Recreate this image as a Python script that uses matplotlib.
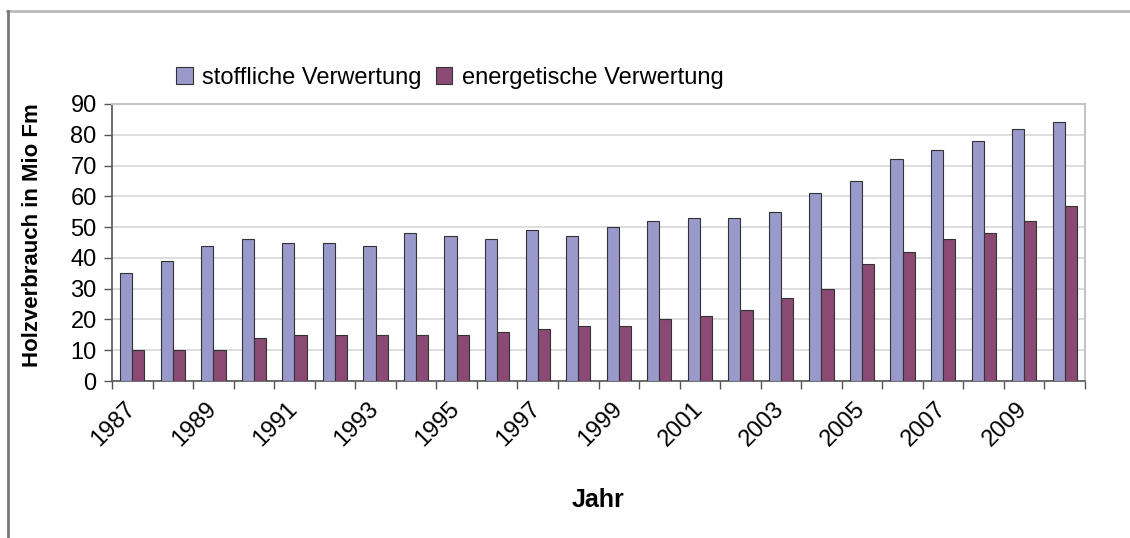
import numpy as np
import matplotlib
matplotlib.use("Agg")
import matplotlib.pyplot as plt
from matplotlib.lines import Line2D

plt.rcParams["font.family"] = ["Liberation Sans", "DejaVu Sans"]

YEARS = list(range(1987, 2011))
STOFFLICH = [35, 39, 44, 46, 45, 45, 44, 48, 47, 46, 49, 47,
             50, 52, 53, 53, 55, 61, 65, 72, 75, 78, 82, 84]
ENERGETISCH = [10, 10, 10, 14, 15, 15, 15, 15, 15, 16, 17, 18,
               18, 20, 21, 23, 27, 30, 38, 42, 46, 48, 52, 57]
SERIES = ["stoffliche Verwertung", "energetische Verwertung"]
COLOURS = ["#9999cc", "#8a4a74"]

fig = plt.figure(figsize=(11.3, 5.38), dpi=100)
ax = fig.add_axes([0.0991, 0.2918, 0.8611, 0.5149])

x = np.arange(len(YEARS))
w = 0.3
ax.bar(x - w / 2, STOFFLICH, w, color=COLOURS[0], edgecolor="#333333",
       linewidth=0.8, label=SERIES[0], zorder=3)
ax.bar(x + w / 2, ENERGETISCH, w, color=COLOURS[1], edgecolor="#333333",
       linewidth=0.8, label=SERIES[1], zorder=3)

ax.set_xlim(-0.5, len(YEARS) - 0.5)
ax.set_ylim(0, 90)
ax.set_yticks(range(0, 91, 10))
ax.tick_params(axis="y", labelsize=17, length=6, width=1, color="#555555", pad=5)
ax.yaxis.grid(True, color="#d8d8d8", linewidth=1.2, zorder=0)

# labels at group centres, tick marks at group boundaries
ax.set_xticks(x[::2])
ax.set_xticklabels([str(y) for y in YEARS[::2]], rotation=45, ha="right",
                   va="center", rotation_mode="anchor", fontsize=17)
ax.tick_params(axis="x", which="major", length=0, pad=18)
ax.set_xticks(np.arange(-0.5, len(YEARS)), minor=True)
ax.tick_params(axis="x", which="minor", length=6, width=1, color="#555555")

for s in ("left", "bottom"):
    ax.spines[s].set_color("#555555")
    ax.spines[s].set_linewidth(1.2)
for s in ("top", "right"):
    ax.spines[s].set_color("#c4c4c4")
    ax.spines[s].set_linewidth(1.5)

ax.set_ylabel("Holzverbrauch in Mio Fm", fontsize=16, fontweight="bold")
ax.yaxis.set_label_coords(-0.071, 0.527)
ax.set_xlabel("Jahr", fontsize=18, fontweight="bold")
ax.xaxis.set_label_coords(0.4995, -0.385)

fig.legend(loc="center", bbox_to_anchor=(0.398, 0.855), ncol=2, frameon=False,
           fontsize=17, handlelength=0.7, handleheight=0.7, handletextpad=0.4,
           columnspacing=0.6)

# frame of the original screenshot
fig.add_artist(Line2D([0.006, 1.0], [0.979, 0.979], transform=fig.transFigure,
                      color="#bbbbbb", linewidth=2))
fig.add_artist(Line2D([0.007, 0.007], [0.0, 0.979], transform=fig.transFigure,
                      color="#777777", linewidth=2))

fig.savefig("out.png", dpi=100)
